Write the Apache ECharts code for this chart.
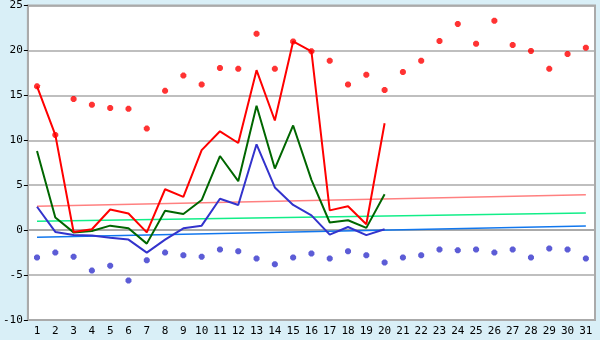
<!DOCTYPE html>
<html>
<head>
<meta charset="utf-8">
<script src="https://cdn.jsdelivr.net/npm/echarts@6/dist/echarts.min.js"></script>
<style>
html,body{margin:0;padding:0;background:#d9eff7;}
#chart{width:600px;height:340px;}
</style>
</head>
<body>
<div id="chart"></div>
<script>
var days = [];
for (var d = 1; d <= 31; d++) days.push(String(d));

// daily lines (1..20)
var redLine = [16.0, 10.6, -0.2, 0.1, 2.3, 1.85, -0.25, 4.55, 3.7, 8.9, 11.0, 9.7, 17.8, 12.2, 21.0, 19.9, 2.2, 2.65, 0.65, 11.9];
var greenLine = [8.8, 1.4, -0.25, -0.1, 0.5, 0.2, -1.5, 2.15, 1.8, 3.35, 8.25, 5.45, 13.85, 6.85, 11.65, 5.6, 0.85, 1.1, 0.25, 4.0];
var blueLine = [2.6, -0.2, -0.55, -0.6, -0.85, -1.05, -2.5, -1.05, 0.2, 0.5, 3.5, 2.8, 9.55, 4.75, 2.8, 1.65, -0.5, 0.35, -0.55, 0.1];

// max / min points (1..31)
var maxPts = [16.0, 10.6, 14.6, 13.95, 13.6, 13.5, 11.3, 15.5, 17.2, 16.2, 18.05, 17.95, 21.85, 17.95, 21.0, 19.9, 18.85, 16.2, 17.3, 15.6,
              17.6, 18.85, 21.05, 22.95, 20.75, 23.3, 20.6, 19.95, 17.95, 19.6, 20.3];
var minPts = [-3.05, -2.5, -2.95, -4.5, -3.95, -5.6, -3.35, -2.5, -2.8, -2.95, -2.15, -2.35, -3.15, -3.8, -3.05, -2.6, -3.15, -2.35, -2.8, -3.6,
              -3.05, -2.8, -2.15, -2.25, -2.15, -2.5, -2.15, -3.05, -2.05, -2.15, -3.15];

// trend lines: [start day index, value], [end day index, value]
var pinkTrend = [[0, 2.65], [30, 3.95]];
var greenTrend = [[0, 1.0], [30, 1.9]];
var blueTrend = [[0, -0.8], [30, 0.45]];

var yTicks = { min: -10, max: 25, step: 5 };

var chart = echarts.init(document.getElementById('chart'));
var font = 'DejaVu Sans Mono';
// small chunky marker (square with clipped corners)
var dot = 'path://M1.5,0 L3.5,0 L5,1.5 L5,3.5 L3.5,5 L1.5,5 L0,3.5 L0,1.5 Z';

var option = {
    animation: false,
    backgroundColor: '#d9eff7',
    grid: {
        left: 27,
        right: 5,
        top: 5,
        bottom: 20,
        show: true,
        backgroundColor: '#ffffff',
        borderColor: '#aaaaaa',
        borderWidth: 2
    },
    xAxis: {
        type: 'category',
        data: days,
        boundaryGap: true,
        axisLine: { lineStyle: { color: '#aaaaaa', width: 2 } },
        axisTick: { alignWithLabel: true, length: 5, lineStyle: { color: '#000000' } },
        axisLabel: { color: '#000000', fontFamily: font, fontSize: 11, margin: 6, interval: 0 },
        splitLine: { show: false }
    },
    yAxis: {
        type: 'value',
        min: yTicks.min,
        max: yTicks.max,
        interval: yTicks.step,
        axisLine: { show: true, lineStyle: { color: '#aaaaaa', width: 2 } },
        axisTick: { show: true, length: 4, lineStyle: { color: '#000000' } },
        axisLabel: { color: '#000000', fontFamily: font, fontSize: 11, margin: 5 },
        splitLine: { lineStyle: { color: '#aaaaaa', width: 1.5 } }
    },
    series: [
        { type: 'line', data: pinkTrend, symbol: 'none', lineStyle: { color: '#ff8080', width: 1.5 }, z: 1 },
        { type: 'line', data: greenTrend, symbol: 'none', lineStyle: { color: '#11ee88', width: 1.5 }, z: 1 },
        { type: 'line', data: blueTrend, symbol: 'none', lineStyle: { color: '#1177ee', width: 1.5 }, z: 1 },
        { type: 'line', data: blueLine, symbol: 'none', lineStyle: { color: '#3333cc', width: 2 }, z: 2 },
        { type: 'line', data: greenLine, symbol: 'none', lineStyle: { color: '#006600', width: 2 }, z: 3 },
        { type: 'line', data: redLine, symbol: 'none', lineStyle: { color: '#ff0000', width: 2 }, z: 4 },
        { type: 'scatter', data: maxPts, symbol: dot, symbolSize: 6, itemStyle: { color: '#ff0000' }, z: 5 },
        { type: 'scatter', data: minPts, symbol: dot, symbolSize: 6, itemStyle: { color: '#3333cc' }, z: 5 }
    ]
};
chart.setOption(option);
</script>
</body>
</html>
